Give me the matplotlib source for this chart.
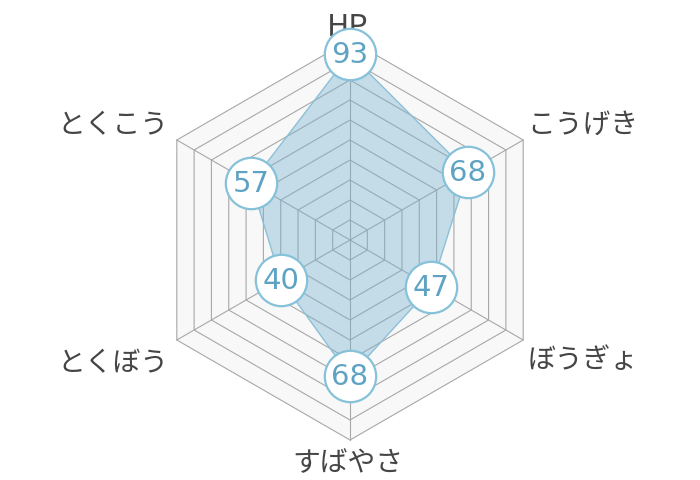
import numpy as np
import matplotlib.pyplot as plt
from matplotlib.patches import Polygon

plt.rcParams['font.family'] = ['Noto Sans CJK JP', 'DejaVu Sans']

# data
categories = ['HP', 'こうげき', 'ぼうぎょ', 'すばやさ', 'とくぼう', 'とくこう']
values = [93, 68, 47, 68, 40, 57]
max_value = 100
ring_step = 10

# layout (pixels, y grows downwards)
cx, cy = 350, 240
radius = 200
n = len(categories)
angles = np.deg2rad(-90 + 360 / n * np.arange(n))


def to_xy(v):
    r = np.asarray(v, dtype=float) / max_value * radius
    return cx + r * np.cos(angles), cy + r * np.sin(angles)


fig = plt.figure(figsize=(7, 4.8), dpi=100)
ax = fig.add_axes([0, 0, 1, 1])
ax.set_xlim(0, 700)
ax.set_ylim(480, 0)
ax.set_aspect('equal')
ax.axis('off')

grid_col = '#a8a8a8'

# background hexagon
ox, oy = to_xy([max_value] * n)
ax.add_patch(Polygon(np.column_stack([ox, oy]), closed=True,
                     facecolor='#f8f8f8', edgecolor='none', zorder=0))

# rings
for lv in range(ring_step, max_value + 1, ring_step):
    gx, gy = to_xy([lv] * n)
    ax.add_patch(Polygon(np.column_stack([gx, gy]), closed=True,
                         facecolor='none', edgecolor=grid_col, lw=0.8, zorder=1))

# spokes
for x, y in zip(ox, oy):
    ax.plot([cx, x], [cy, y], color=grid_col, lw=0.8, zorder=1)

# data area
vx, vy = to_xy(values)
ax.add_patch(Polygon(np.column_stack([vx, vy]), closed=True,
                     facecolor='#74b2d0', alpha=0.4, edgecolor='none', zorder=2))
ax.add_patch(Polygon(np.column_stack([vx, vy]), closed=True,
                     facecolor='none', edgecolor='#8cc0d8', lw=1.0, zorder=2))

# category labels
label_pos = [  # dx, dy, ha, size
    (-2, -4, 'center', 22),
    (4, -7, 'left', 20),
    (4, 28, 'left', 20),
    (-2, 31, 'center', 20),
    (-8, 31, 'right', 20),
    (-8, -7, 'right', 20),
]
for name, x, y, (dx, dy, ha, fs) in zip(categories, ox, oy, label_pos):
    ax.text(x + dx, y + dy, name, ha=ha, va='baseline', fontsize=fs,
            color='#454545', zorder=3)

# value bubbles
ax.plot(vx, vy, 'o', ms=37, mfc='white', mec='#86c1da', mew=1.6,
        linestyle='none', zorder=4)
for v, x, y in zip(values, vx, vy):
    ax.text(x, y + 1, str(v), ha='center', va='center', fontsize=21,
            family='DejaVu Sans', color='#5fa3c4', zorder=5)

fig.savefig('out.png', dpi=100)
